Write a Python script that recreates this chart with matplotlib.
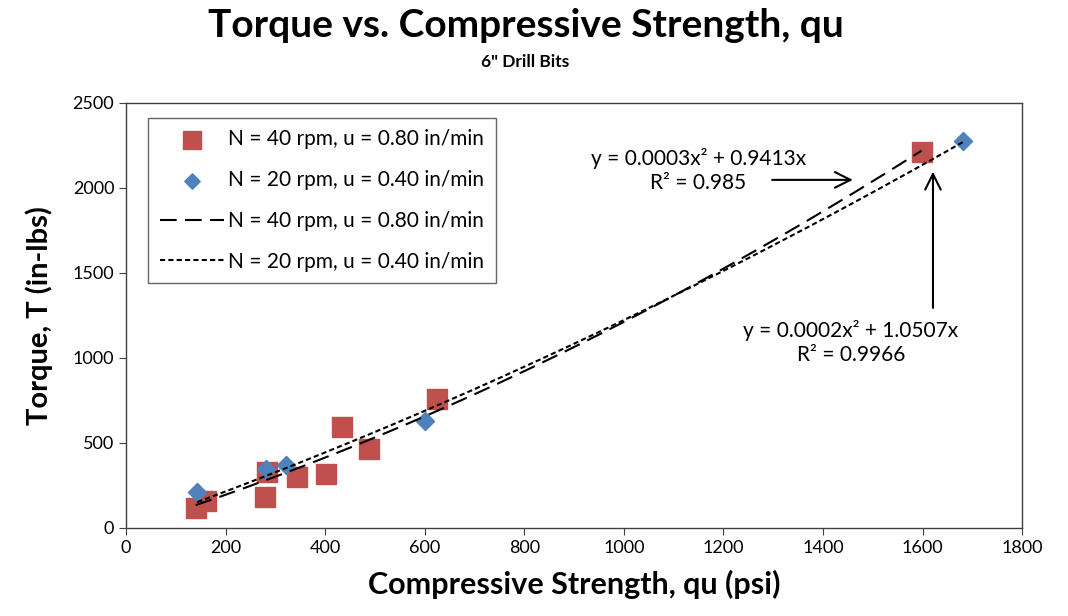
import numpy as np
import matplotlib
matplotlib.use("Agg")
import matplotlib.pyplot as plt

plt.rcParams['font.family'] = ['Lato', 'DejaVu Sans']

# Data
qu_40 = [140, 160, 280, 283, 343, 402, 433, 488, 625, 1598]
T_40 = [120, 160, 180, 330, 300, 320, 596, 465, 760, 2212]
qu_20 = [143, 282, 321, 600, 1682]
T_20 = [214, 345, 371, 631, 2276]

label_40 = "N = 40 rpm, u = 0.80 in/min"
label_20 = "N = 20 rpm, u = 0.40 in/min"
eq_40 = "y = 0.0003x² + 0.9413x\nR² = 0.985"
eq_20 = "y = 0.0002x² + 1.0507x\nR² = 0.9966"

xticks = [0, 200, 400, 600, 800, 1000, 1200, 1400, 1600, 1800]
yticks = [0, 500, 1000, 1500, 2000, 2500]


def fit_through_origin(x, y):
    x = np.asarray(x, float)
    y = np.asarray(y, float)
    A = np.column_stack([x ** 2, x])
    coef, *_ = np.linalg.lstsq(A, y, rcond=None)
    return coef


fig = plt.figure(figsize=(10.68, 6.16), dpi=100)
ax = fig.add_axes([0.118, 0.143, 0.839, 0.690])

ax.scatter(qu_40, T_40, marker='s', s=220, color='#C0504D', zorder=3, label=label_40)
ax.scatter(qu_20, T_20, marker='D', s=85, color='#4F81BD', zorder=3, label=label_20)

c40 = fit_through_origin(qu_40, T_40)
c20 = fit_through_origin(qu_20, T_20)
xs40 = np.linspace(min(qu_40), max(qu_40), 200)
xs20 = np.linspace(min(qu_20), max(qu_20), 200)
ax.plot(xs40, c40[0] * xs40 ** 2 + c40[1] * xs40, color='black', lw=1.5,
        linestyle=(0, (8, 4)), zorder=4, label=label_40)
ax.plot(xs20, c20[0] * xs20 ** 2 + c20[1] * xs20, color='black', lw=1.5,
        linestyle=(0, (2.5, 1.5)), zorder=4, label=label_20)

ax.set_xlim(0, 1800)
ax.set_ylim(0, 2500)
ax.set_xticks(xticks)
ax.set_yticks(yticks)
ax.tick_params(axis='both', labelsize=13, direction='out', length=5, color='#404040')
for s in ax.spines.values():
    s.set_color('#404040')
    s.set_linewidth(1.0)

ax.set_xlabel("Compressive Strength, qu (psi)", fontsize=22, fontweight='bold', labelpad=10)
ax.set_ylabel("Torque, T (in-lbs)", fontsize=21, fontweight='bold', labelpad=14)

fig.text(0.492, 0.958, "Torque vs. Compressive Strength, qu", ha='center', va='center',
         fontsize=28, fontweight='bold')
fig.text(0.492, 0.900, "6\" Drill Bits", ha='center', va='center', fontsize=12.5, fontweight='bold')

leg = ax.legend(loc='upper left', bbox_to_anchor=(0.0246, 0.965), borderaxespad=0,
                fontsize=15, frameon=True, fancybox=False, edgecolor='#404040',
                handlelength=3.1, labelspacing=1.0, borderpad=0.55, handletextpad=0.2,
                scatterpoints=1, markerscale=0.85)
leg.get_frame().set_linewidth(1.0)

# annotations
ax.text(1150, 2100, eq_40, ha='center', va='center', fontsize=15, linespacing=1.25)
ax.annotate('', xy=(1460, 2047), xytext=(1298, 2047),
            arrowprops=dict(arrowstyle='->', color='black', lw=1.5,
                            mutation_scale=28, shrinkA=0, shrinkB=0))
ax.annotate('', xy=(1621, 2095), xytext=(1621, 1294),
            arrowprops=dict(arrowstyle='->', color='black', lw=1.5,
                            mutation_scale=28, shrinkA=0, shrinkB=0))
ax.text(1456, 1088, eq_20, ha='center', va='center', fontsize=15, linespacing=1.25)

fig.savefig("out.png", dpi=100)
